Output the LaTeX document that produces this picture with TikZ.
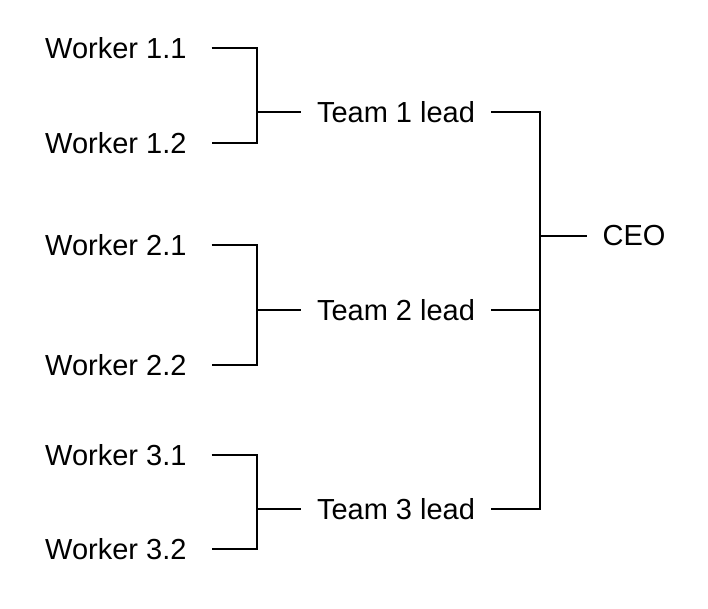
\documentclass[tikz,border=0pt]{standalone}
\usepackage{fontspec}
\setmainfont{Liberation Sans}
\usetikzlibrary{positioning}
\tikzset{
  worker/.style={anchor=west, inner xsep=25pt, inner ysep=0pt, font=\fontsize{29}{31}\selectfont},
  lead/.style={inner xsep=16pt, inner ysep=0pt, font=\fontsize{29}{31}\selectfont},
  boss/.style={inner xsep=15pt, inner ysep=0pt, font=\fontsize{29}{31}\selectfont},
  link/.style={line width=1.2pt}
}
\begin{document}
\begin{tikzpicture}[x=1pt,y=-1pt]
\useasboundingbox (0,0) rectangle (708,608);

% workers
\node[worker] (w11) at (20,48) {Worker 1.1};
\node[worker] (w12) at (20,143) {Worker 1.2};
\node[worker] (w21) at (20,245) {Worker 2.1};
\node[worker] (w22) at (20,365) {Worker 2.2};
\node[worker] (w31) at (20,455) {Worker 3.1};
\node[worker] (w32) at (20,549) {Worker 3.2};

% team leads
\node[lead] (t1) at (396,112) {Team 1 lead};
\node[lead] (t2) at (396,310) {Team 2 lead};
\node[lead] (t3) at (396,509) {Team 3 lead};

\node[boss] (ceo) at (634,236) {CEO};

% junctions
\coordinate (j1) at (257,112);
\coordinate (j2) at (257,310);
\coordinate (j3) at (257,509);
\coordinate (k) at (540,236);

\draw[link] (w11.east) -| (j1) |- (w12.east);
\draw[link] (j1) -- (t1.west);
\draw[link] (w21.east) -| (j2) |- (w22.east);
\draw[link] (j2) -- (t2.west);
\draw[link] (w31.east) -| (j3) |- (w32.east);
\draw[link] (j3) -- (t3.west);

\draw[link] (t1.east) -| (k) |- (t3.east);
\draw[link] (t2.east) -| (k);
\draw[link] (k) -- (ceo.west);
\end{tikzpicture}
\end{document}
